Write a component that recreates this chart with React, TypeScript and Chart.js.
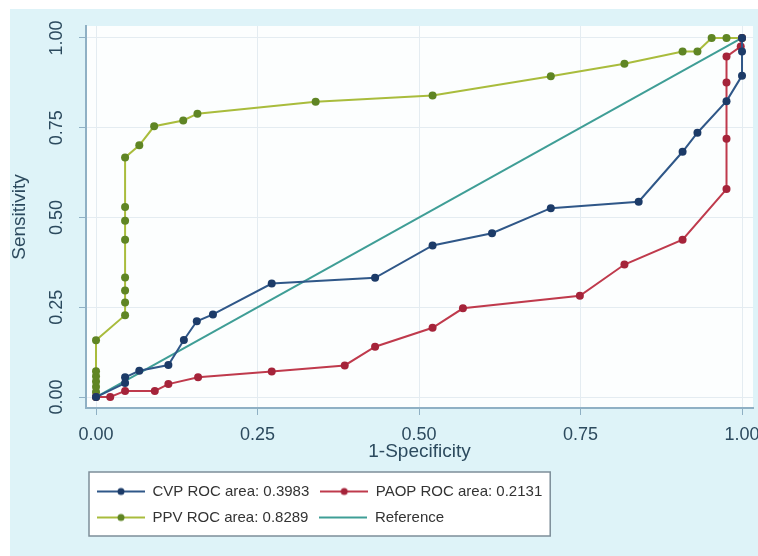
import { useEffect, useRef } from 'react';
import { Chart, registerables } from 'chart.js';
Chart.register(...registerables);

// ---- data ----
const seriesLabels = ['CVP ROC area: 0.3983', 'PAOP ROC area: 0.2131', 'PPV ROC area: 0.8289', 'Reference'];

const cvpX = [0, 0.045, 0.045, 0.067, 0.112, 0.136, 0.156, 0.181, 0.272, 0.432, 0.521, 0.613, 0.704, 0.840, 0.908, 0.931, 0.976, 1, 1, 1];
const cvpY = [0, 0.039, 0.055, 0.073, 0.089, 0.159, 0.211, 0.230, 0.316, 0.332, 0.422, 0.456, 0.526, 0.544, 0.683, 0.736, 0.824, 0.895, 0.962, 1];

const paopX = [0, 0.022, 0.045, 0.091, 0.112, 0.158, 0.272, 0.385, 0.432, 0.521, 0.568, 0.749, 0.818, 0.908, 0.976, 0.976, 0.976, 0.976, 0.998, 1];
const paopY = [0, 0, 0.017, 0.017, 0.036, 0.055, 0.071, 0.088, 0.140, 0.193, 0.247, 0.282, 0.369, 0.438, 0.579, 0.719, 0.876, 0.948, 0.976, 1];

const ppvX = [0, 0, 0, 0, 0, 0, 0, 0.045, 0.045, 0.045, 0.045, 0.045, 0.045, 0.045, 0.045, 0.067, 0.090, 0.135, 0.157, 0.340, 0.521, 0.704, 0.818, 0.908, 0.931, 0.953, 0.976, 1];
const ppvY = [0, 0.014, 0.029, 0.043, 0.058, 0.072, 0.158, 0.228, 0.263, 0.297, 0.333, 0.438, 0.491, 0.529, 0.667, 0.701, 0.754, 0.770, 0.789, 0.822, 0.840, 0.893, 0.928, 0.962, 0.962, 1, 1, 1];

const refX = [0, 1];
const refY = [0, 1];

const tickValues = [0, 0.25, 0.5, 0.75, 1];
const tickLabels = ['0.00', '0.25', '0.50', '0.75', '1.00'];

const lineColors = ['#2f5788', '#bf3a4c', '#a9bc3c', '#3f9e96'];
const markerColors = ['#1c3b68', '#a5243a', '#5f8524', '#3f9e96'];

const FONT = 'Liberation Sans, Arial, Helvetica, sans-serif';

function pts(xs: number[], ys: number[]) {
  return xs.map((x, i) => ({ x, y: ys[i] }));
}

function legendImage(line: string, dot: string | null) {
  const c = document.createElement('canvas');
  c.width = 48;
  c.height = 10;
  const g = c.getContext('2d')!;
  g.strokeStyle = line;
  g.lineWidth = 2;
  g.beginPath();
  g.moveTo(0, 5);
  g.lineTo(48, 5);
  g.stroke();
  if (dot) {
    g.fillStyle = dot;
    g.beginPath();
    g.arc(24, 5, 3.5, 0, Math.PI * 2);
    g.fill();
  }
  return c;
}

const LEG_PAD = 11;

const decoPlugin = {
  id: 'deco',
  beforeDraw(chart: any) {
    const { ctx, chartArea } = chart;
    ctx.save();
    ctx.fillStyle = '#fcfefe';
    ctx.fillRect(chartArea.left, chartArea.top, chartArea.right - chartArea.left, chartArea.bottom - chartArea.top);
    const lg = chart.legend;
    if (lg && lg.lineWidths) {
      const maxLW = Math.max(...lg.lineWidths);
      const rows = lg.lineWidths.length;
      const x1 = lg.left + LEG_PAD - 8;
      const x2 = lg.left + LEG_PAD + maxLW - LEG_PAD + 8;
      const y1 = lg.top + LEG_PAD - 12;
      const y2 = lg.top + LEG_PAD + rows * (15 + LEG_PAD) - LEG_PAD + 11;
      ctx.fillStyle = '#ffffff';
      ctx.fillRect(x1, y1, x2 - x1, y2 - y1);
      ctx.strokeStyle = '#7d8e99';
      ctx.lineWidth = 1.5;
      ctx.strokeRect(x1, y1, x2 - x1, y2 - y1);
    }
    ctx.restore();
  },
};

export default function App() {
  const ref = useRef<HTMLCanvasElement>(null);
  useEffect(() => {
    const datasets = [
      { data: pts(cvpX, cvpY), i: 0, r: 4 },
      { data: pts(paopX, paopY), i: 1, r: 4 },
      { data: pts(ppvX, ppvY), i: 2, r: 4 },
      { data: pts(refX, refY), i: 3, r: 0 },
    ].map((d) => ({
      label: seriesLabels[d.i],
      data: d.data,
      showLine: true,
      borderColor: lineColors[d.i],
      borderWidth: 2,
      pointRadius: d.r,
      pointHoverRadius: d.r,
      pointBackgroundColor: markerColors[d.i],
      pointBorderColor: markerColors[d.i],
      pointBorderWidth: 0,
      tension: 0,
    }));
    const images = [0, 1, 2, 3].map((i) => legendImage(lineColors[i], i < 3 ? markerColors[i] : null));

    const axisColor = '#8fb0c4';
    const textColor = '#2c4a5e';
    const gridColor = '#e4ecf1';

    const chart = new Chart(ref.current!, {
      type: 'scatter',
      data: { datasets },
      options: {
        animation: false,
        responsive: false,
        layout: { padding: { top: 17, right: 5, bottom: 21, left: 0 } },
        plugins: {
          tooltip: { enabled: false },
          legend: {
            position: 'bottom',
            fullSize: false,
            align: 'start',
            labels: {
              usePointStyle: true,
              pointStyleWidth: 48,
              padding: LEG_PAD,
              color: '#333333',
              font: { family: FONT, size: 15 },
              generateLabels: (ch: any) =>
                ch.data.datasets.map((ds: any, i: number) => ({
                  text: ds.label,
                  pointStyle: images[i],
                  fillStyle: lineColors[i],
                  strokeStyle: lineColors[i],
                  lineWidth: 0,
                  hidden: false,
                  datasetIndex: i,
                  fontColor: '#333333',
                })),
            },
          },
        },
        scales: {
          x: {
            type: 'linear',
            min: -0.0155,
            max: 1.017,
            afterBuildTicks: (s: any) => {
              s.ticks = tickValues.map((v) => ({ value: v }));
            },
            afterFit: (s: any) => {
              s.height = 65;
              s.paddingLeft = 0;
              s.paddingRight = 0;
            },
            ticks: {
              padding: 11,
              color: textColor,
              font: { family: FONT, size: 18, lineHeight: 1 },
              maxRotation: 0,
              minRotation: 0,
              callback: (v: any) => tickLabels[tickValues.indexOf(Number(v))] ?? '',
            },
            grid: { color: gridColor, tickColor: axisColor, tickLength: 7, lineWidth: 1 },
            border: { color: axisColor, width: 2 },
            title: {
              display: true,
              text: '1-Specificity',
              color: textColor,
              font: { family: FONT, size: 19, lineHeight: 1 },
              padding: { top: 0, bottom: 11.5 },
            },
          },
          y: {
            type: 'linear',
            min: -0.0305,
            max: 1.0332,
            afterBuildTicks: (s: any) => {
              s.ticks = tickValues.map((v) => ({ value: v }));
            },
            afterFit: (s: any) => {
              s.width = 76;
              s.paddingTop = 0;
              s.paddingBottom = 0;
            },
            ticks: {
              padding: 4.5,
              color: textColor,
              font: { family: FONT, size: 18, lineHeight: 1 },
              minRotation: 90,
              maxRotation: 90,
              crossAlign: 'center',
              callback: (v: any) => tickLabels[tickValues.indexOf(Number(v))] ?? '',
            },
            grid: { color: gridColor, tickColor: axisColor, tickLength: 7, lineWidth: 1 },
            border: { color: axisColor, width: 2 },
            title: {
              display: true,
              text: 'Sensitivity',
              color: textColor,
              font: { family: FONT, size: 19, lineHeight: 1 },
              padding: { top: 0, bottom: 0 },
            },
          },
        },
      },
      plugins: [decoPlugin],
    } as any);
    return () => chart.destroy();
  }, []);

  return (
    <div
      style={{
        position: 'absolute',
        left: 10,
        top: 9,
        width: 748,
        height: 547,
        background: '#def3f8',
      }}
    >
      <canvas ref={ref} width={748} height={547} style={{ display: 'block' }} />
    </div>
  );
}
